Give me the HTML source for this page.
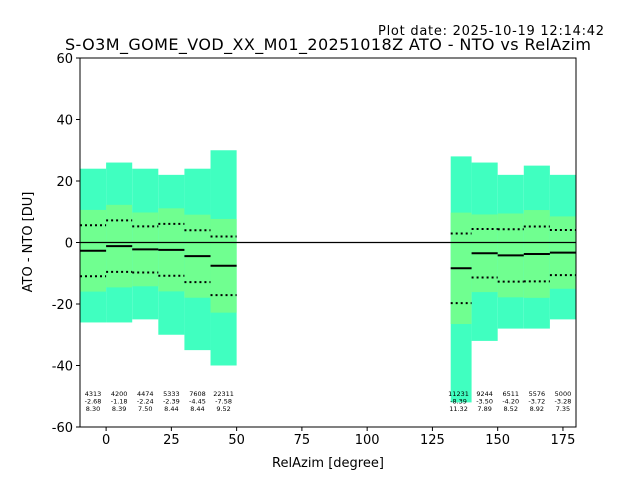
<!DOCTYPE html>
<html><head><meta charset="utf-8"><style>
body{margin:0;background:#fff;}
svg{font-family:"DejaVu Sans","Liberation Sans",sans-serif;}
</style></head><body>
<svg id="c" width="640" height="480">
<rect width="640" height="480" fill="#fff"/>
<text x="604" y="35" font-size="13" text-anchor="end" textLength="226">Plot date: 2025-10-19 12:14:42</text>
<text x="328" y="50" font-size="16" text-anchor="middle" textLength="526">S-O3M_GOME_VOD_XX_M01_20251018Z ATO - NTO vs RelAzim</text>
<g id="plot"></g>
<text x="328" y="467" font-size="13" text-anchor="middle">RelAzim [degree]</text>
<text transform="translate(32,242) rotate(-90)" font-size="13" text-anchor="middle">ATO - NTO [DU]</text>
</svg>
<script>
const binStart=[-10,0,10,20,30,40,130,140,150,160,170];
const binCount=[4313,4200,4474,5333,7608,22311,11231,9244,6511,5576,5000];
const binMean=[-2.68,-1.18,-2.24,-2.39,-4.45,-7.58,-8.39,-3.50,-4.20,-3.72,-3.28];
const binStd=[8.30,8.39,7.50,8.44,8.44,9.52,11.32,7.89,8.52,8.92,7.35];
const cloudTop=[24,26,24,22,24,30,28,26,22,25,22];
const cloudBottom=[-26,-26,-25,-30,-35,-40,-52,-32,-28,-28,-25];
const xTicks=[0,25,50,75,100,125,150,175];
const yTicks=[-60,-40,-20,0,20,40,60];
const L=80,R=576,T=58,B=427;
const sx=v=>L+(v+10)/190*(R-L);
const sy=v=>T+(60-v)/120*(B-T);
const g=document.getElementById('plot');
const NS='http://www.w3.org/2000/svg';
function mk(tag,at,parent){const e=document.createElementNS(NS,tag);for(const k in at)e.setAttribute(k,at[k]);(parent||g).appendChild(e);return e;}
binStart.forEach((b,i)=>{
  const x0=sx(b+(b===130?2:0)),x1=sx(b+10);
  let r=mk('rect',{x:x0,y:sy(cloudTop[i]),width:x1-x0,height:sy(cloudBottom[i])-sy(cloudTop[i]),fill:'#40ffc0'});
  
  
  r=mk('rect',{x:x0,y:sy(binMean[i]+binStd[i]*1.6),width:x1-x0,height:sy(binMean[i]-binStd[i]*1.6)-sy(binMean[i]+binStd[i]*1.6),fill:'#70ff90'});
  
  
});
let z=mk('line',{x1:L,x2:R,y1:sy(0),y2:sy(0),stroke:'#000','stroke-width':1.2});


binStart.forEach((b,i)=>{
  const x0=sx(b+(b===130?2:0)),x1=sx(b+10);
  let m=mk('line',{x1:x0,x2:x1,y1:sy(binMean[i]),y2:sy(binMean[i]),stroke:'#000','stroke-width':2});
  
  
  [1,-1].forEach(s=>{
    let d=mk('line',{x1:x0,x2:x1,y1:sy(binMean[i]+s*binStd[i]),y2:sy(binMean[i]+s*binStd[i]),stroke:'#000','stroke-width':2,'stroke-dasharray':'2,3'});
    
    
  });
  const cx=sx(b+5);
  [binCount[i],binMean[i].toFixed(2),binStd[i].toFixed(2)].forEach((t,k)=>{
    let tx=mk('text',{x:cx,y:396+k*7.5,'font-size':6.5,'text-anchor':'middle'});
    tx.textContent=t;
    
    
  });
});
let f=mk('rect',{x:L,y:T,width:R-L,height:B-T,fill:'none',stroke:'#000','stroke-width':1});


xTicks.forEach(v=>{
  mk('line',{x1:sx(v),x2:sx(v),y1:B,y2:B+4,stroke:'#000'});
  let t=mk('text',{x:sx(v),y:B+17,'font-size':13,'text-anchor':'middle'});
  t.textContent=v;
  
  
});
yTicks.forEach(v=>{
  mk('line',{x1:L-4,x2:L,y1:sy(v),y2:sy(v),stroke:'#000'});
  let t=mk('text',{x:L-7,y:sy(v)+5,'font-size':13,'text-anchor':'end'});
  t.textContent=v;
  
  
});
</script>
</body></html>
